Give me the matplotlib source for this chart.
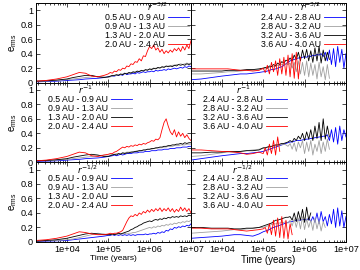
import numpy as np
import matplotlib
matplotlib.use("Agg")
import matplotlib.pyplot as plt
from matplotlib.ticker import LogLocator, FuncFormatter, NullFormatter

plt.rcParams["font.family"] = ["Liberation Sans", "DejaVu Sans"]

nan = np.nan

# ----------
#  DATA
# ----------
# log10(time / years), shared sampling of every curve
log_t = [3.25, 3.5, 3.75, 4.0, 4.15, 4.3, 4.45, 4.6, 4.75, 4.9,
         5.00, 5.05, 5.10, 5.15, 5.20, 5.25, 5.30, 5.35, 5.40, 5.45,
         5.50, 5.55, 5.60, 5.65, 5.70, 5.75, 5.80, 5.85, 5.90, 5.95,
         6.00, 6.05, 6.10, 6.15, 6.20, 6.25, 6.30, 6.35, 6.40, 6.45,
         6.50, 6.55, 6.60, 6.65, 6.70, 6.75, 6.80, 6.85, 6.90, 6.95,
         7.00]

labels_inner = ["0.5 AU - 0.9 AU", "0.9 AU - 1.3 AU", "1.3 AU - 2.0 AU", "2.0 AU - 2.4 AU"]
labels_outer = ["2.4 AU - 2.8 AU", "2.8 AU - 3.2 AU", "3.2 AU - 3.6 AU", "3.6 AU - 4.0 AU"]
profiles = ["$r^{-3/2}$", "$r^{-1}$", "$r^{-1/2}$"]

# r^-3/2, inner disc
e32_in_blue = [0.01, 0.015, 0.02, 0.03, 0.035, 0.04, 0.05, 0.055, 0.06, 0.07,
               0.08, 0.085, 0.09, 0.09, 0.1, 0.1, 0.11, 0.1, 0.13, 0.11,
               0.12, 0.12, 0.13, 0.12, 0.14, 0.13, 0.14, 0.15, 0.14, 0.15,
               0.15, 0.16, 0.15, 0.17, 0.16, 0.17, 0.17, 0.18, 0.17, 0.19,
               0.18, 0.19, 0.2, 0.19, 0.2, 0.21, 0.2, 0.22, 0.21, 0.23,
               0.22]
e32_in_gray = [0.02, 0.02, 0.03, 0.04, 0.05, 0.06, 0.07, 0.08, 0.085, 0.08,
               0.07, 0.08, 0.09, 0.1, 0.1, 0.11, 0.11, 0.12, 0.12, 0.13,
               0.13, 0.14, 0.14, 0.15, 0.15, 0.16, 0.16, 0.17, 0.17, 0.18,
               0.18, 0.19, 0.19, 0.2, 0.2, 0.21, 0.21, 0.22, 0.22, 0.23,
               0.23, 0.24, 0.24, 0.25, 0.25, 0.26, 0.25, 0.26, 0.27, 0.26,
               0.27]
e32_in_black = [0.02, 0.025, 0.035, 0.05, 0.07, 0.085, 0.1, 0.1, 0.08, 0.07,
                0.08, 0.09, 0.1, 0.1, 0.11, 0.1, 0.12, 0.11, 0.13, 0.12,
                0.14, 0.13, 0.15, 0.14, 0.16, 0.15, 0.17, 0.16, 0.18, 0.17,
                0.19, 0.18, 0.2, 0.19, 0.21, 0.2, 0.22, 0.21, 0.23, 0.22,
                0.23, 0.22, 0.24, 0.23, 0.25, 0.24, 0.25, 0.24, 0.26, 0.25,
                0.26]
e32_in_red = [0.02, 0.03, 0.05, 0.08, 0.11, 0.14, 0.13, 0.09, 0.08, 0.1,
              0.12, 0.14, 0.13, 0.16, 0.15, 0.18, 0.17, 0.2, 0.19, 0.23,
              0.22, 0.26, 0.25, 0.29, 0.28, 0.33, 0.3, 0.37, 0.36, 0.44,
              0.5, 0.47, 0.52, 0.45, 0.48, 0.42, 0.46, 0.4, 0.44, 0.41,
              0.45, 0.42, 0.47, 0.44, 0.48, 0.43, 0.5, 0.45, 0.52, 0.47,
              0.58]

# r^-3/2, outer disc
e32_out_blue = [0.04, 0.05, 0.07, 0.09, 0.1, 0.11, 0.12, 0.12, 0.13, 0.14,
                0.15, 0.15, 0.16, 0.17, 0.18, 0.18, 0.19, 0.2, 0.21, 0.22,
                0.24, 0.26, 0.28, 0.3, 0.31, 0.32, 0.33, 0.34, 0.34, 0.35,
                0.36, 0.35, 0.37, 0.36, 0.38, 0.37, 0.39, 0.38, 0.4, 0.36,
                0.42, 0.3, 0.45, 0.25, 0.47, 0.22, 0.5, 0.28, 0.46, 0.2,
                0.4]
e32_out_gray = [0.12, 0.12, 0.13, 0.14, 0.15, 0.15, 0.16, 0.17, 0.17, 0.18,
                0.19, 0.2, 0.2, 0.21, 0.22, 0.22, 0.23, 0.24, 0.24, 0.25,
                0.25, 0.26, 0.25, 0.27, 0.2, 0.28, 0.15, 0.3, 0.12, 0.28,
                0.1, 0.3, 0.08, 0.27, 0.1, 0.25, 0.05, 0.28, 0.08, 0.22,
                0.04, 0.25, 0.06] + [nan] * 8
e32_out_black = [0.16, 0.16, 0.16, 0.16, 0.17, 0.17, 0.17, 0.18, 0.18, 0.19,
                 0.2, 0.21, 0.2, 0.23, 0.22, 0.25, 0.23, 0.27, 0.25, 0.29,
                 0.27, 0.31, 0.3, 0.34, 0.3, 0.38, 0.32, 0.42, 0.3, 0.45,
                 0.33, 0.46, 0.3, 0.44, 0.28, 0.48, 0.3, 0.5, 0.27, 0.45,
                 0.3, 0.42, 0.32] + [nan] * 8
e32_out_red = [0.19, 0.19, 0.19, 0.19, 0.19, 0.18, 0.17, 0.17, 0.16, 0.17,
               0.2, 0.14, 0.24, 0.12, 0.28, 0.15, 0.3, 0.1, 0.33, 0.12,
               0.35, 0.1, 0.38, 0.08, 0.4, 0.06, 0.42, 0.05, 0.35] + [nan] * 22

# r^-1, inner disc
e1_in_blue = [0.01, 0.015, 0.02, 0.03, 0.035, 0.04, 0.05, 0.055, 0.06, 0.07,
              0.08, 0.085, 0.09, 0.1, 0.09, 0.1, 0.11, 0.1, 0.11, 0.12,
              0.12, 0.12, 0.13, 0.13, 0.13, 0.14, 0.14, 0.14, 0.15, 0.15,
              0.15, 0.16, 0.16, 0.16, 0.17, 0.17, 0.17, 0.18, 0.18, 0.18,
              0.19, 0.19, 0.19, 0.2, 0.2, 0.2, 0.21, 0.21, 0.21, 0.22,
              0.22]
e1_in_gray = [0.02, 0.02, 0.03, 0.04, 0.05, 0.06, 0.07, 0.08, 0.09, 0.1,
              0.1, 0.1, 0.11, 0.11, 0.12, 0.12, 0.12, 0.13, 0.13, 0.14,
              0.14, 0.14, 0.15, 0.15, 0.16, 0.16, 0.16, 0.17, 0.17, 0.18,
              0.18, 0.18, 0.19, 0.19, 0.2, 0.2, 0.2, 0.21, 0.21, 0.22,
              0.22, 0.22, 0.23, 0.23, 0.23, 0.24, 0.24, 0.24, 0.25, 0.25,
              0.25]
e1_in_black = [0.02, 0.025, 0.035, 0.05, 0.07, 0.085, 0.1, 0.11, 0.1, 0.08,
               0.08, 0.09, 0.1, 0.11, 0.1, 0.12, 0.11, 0.13, 0.12, 0.13,
               0.13, 0.14, 0.14, 0.15, 0.15, 0.16, 0.16, 0.17, 0.17, 0.18,
               0.18, 0.19, 0.19, 0.2, 0.2, 0.21, 0.21, 0.22, 0.22, 0.23,
               0.23, 0.24, 0.24, 0.25, 0.25, 0.26, 0.25, 0.27, 0.26, 0.27,
               0.27]
e1_in_red = [0.02, 0.03, 0.05, 0.08, 0.11, 0.14, 0.13, 0.09, 0.08, 0.1,
             0.11, 0.12, 0.12, 0.14, 0.15, 0.17, 0.19, 0.21, 0.2, 0.22,
             0.21, 0.23, 0.22, 0.24, 0.23, 0.25, 0.24, 0.26, 0.25, 0.27,
             0.28, 0.3, 0.29, 0.32, 0.31, 0.34, 0.45, 0.55, 0.6, 0.5,
             0.42, 0.38, 0.45, 0.35, 0.42, 0.36, 0.4, 0.34, 0.38, 0.33,
             0.3]

# r^-1, outer disc
e1_out_blue = [0.03, 0.05, 0.07, 0.09, 0.1, 0.11, 0.12, 0.12, 0.13, 0.14,
               0.15, 0.16, 0.17, 0.18, 0.19, 0.2, 0.21, 0.22, 0.23, 0.24,
               0.25, 0.26, 0.27, 0.28, 0.28, 0.29, 0.3, 0.3, 0.3, 0.31,
               0.31, 0.32, 0.32, 0.33, 0.33, 0.34, 0.34, 0.35, 0.35, 0.36,
               0.36, 0.38, 0.3, 0.45, 0.28, 0.48, 0.25, 0.5, 0.3, 0.45,
               0.35]
e1_out_gray = [0.08, 0.09, 0.11, 0.13, 0.14, 0.14, 0.15, 0.16, 0.17, 0.18,
               0.19, 0.2, 0.2, 0.21, 0.22, 0.22, 0.23, 0.23, 0.24, 0.24,
               0.25, 0.24, 0.22, 0.26, 0.18, 0.27, 0.15, 0.28, 0.2, 0.3,
               0.12, 0.28, 0.15, 0.3, 0.1, 0.25, 0.15, 0.3, 0.12, 0.28,
               0.15, 0.32, 0.18] + [nan] * 8
e1_out_black = [0.13, 0.13, 0.14, 0.14, 0.15, 0.15, 0.15, 0.16, 0.16, 0.17,
                0.2, 0.2, 0.21, 0.22, 0.22, 0.23, 0.24, 0.24, 0.25, 0.26,
                0.26, 0.27, 0.28, 0.3, 0.28, 0.33, 0.3, 0.36, 0.32, 0.4,
                0.3, 0.42, 0.32, 0.45, 0.3, 0.5, 0.33, 0.55, 0.3, 0.6,
                0.32, 0.5, 0.35] + [nan] * 8
e1_out_red = [0.17, 0.17, 0.16, 0.15, 0.15, 0.14, 0.13, 0.11, 0.12, 0.14,
              0.12, 0.2, 0.1, 0.25, 0.12, 0.3, 0.1, 0.35, 0.15] + [nan] * 32

# r^-1/2, inner disc
e12_in_blue = [0.005, 0.01, 0.015, 0.02, 0.03, 0.04, 0.05, 0.06, 0.07, 0.08,
               0.09, 0.09, 0.1, 0.09, 0.1, 0.09, 0.1, 0.09, 0.1, 0.09,
               0.1, 0.09, 0.1, 0.09, 0.1, 0.1, 0.1, 0.1, 0.11, 0.1,
               0.11, 0.11, 0.12, 0.11, 0.13, 0.12, 0.14, 0.13, 0.16, 0.15,
               0.18, 0.17, 0.2, 0.19, 0.21, 0.2, 0.22, 0.21, 0.23, 0.22,
               0.25]
e12_in_gray = [0.01, 0.015, 0.02, 0.03, 0.04, 0.06, 0.08, 0.1, 0.12, 0.11,
               0.1, 0.1, 0.1, 0.11, 0.1, 0.11, 0.11, 0.11, 0.12, 0.11,
               0.12, 0.12, 0.13, 0.13, 0.14, 0.15, 0.16, 0.17, 0.18, 0.19,
               0.2, 0.19, 0.21, 0.2, 0.22, 0.21, 0.23, 0.22, 0.24, 0.23,
               0.25, 0.24, 0.26, 0.25, 0.27, 0.26, 0.28, 0.27, 0.29, 0.28,
               0.3]
e12_in_black = [0.01, 0.02, 0.03, 0.05, 0.07, 0.09, 0.11, 0.12, 0.11, 0.1,
                0.1, 0.1, 0.11, 0.1, 0.11, 0.12, 0.11, 0.12, 0.13, 0.14,
                0.15, 0.17, 0.18, 0.2, 0.21, 0.23, 0.24, 0.26, 0.27, 0.28,
                0.29, 0.28, 0.3, 0.31, 0.3, 0.32, 0.31, 0.33, 0.32, 0.34,
                0.33, 0.35, 0.34, 0.35, 0.34, 0.36, 0.35, 0.36, 0.35, 0.37,
                0.36]
e12_in_red = [0.02, 0.03, 0.05, 0.08, 0.11, 0.14, 0.13, 0.11, 0.1, 0.1,
              0.11, 0.12, 0.11, 0.12, 0.12, 0.13, 0.14, 0.16, 0.22, 0.28,
              0.33, 0.36, 0.35, 0.38, 0.36, 0.4, 0.38, 0.42, 0.4, 0.44,
              0.41, 0.45, 0.42, 0.46, 0.43, 0.47, 0.42, 0.46, 0.43, 0.47,
              0.42, 0.46, 0.41, 0.45, 0.42, 0.48, 0.43, 0.47, 0.42, 0.46,
              0.4]

# r^-1/2, outer disc
e12_out_blue = [0.05, 0.06, 0.07, 0.08, 0.09, 0.1, 0.1, 0.09, 0.08, 0.11,
                0.14, 0.15, 0.16, 0.17, 0.19, 0.2, 0.21, 0.22, 0.23, 0.24,
                0.25, 0.26, 0.27, 0.28, 0.28, 0.29, 0.3, 0.3, 0.3, 0.31,
                0.31, 0.3, 0.33, 0.28, 0.35, 0.27, 0.4, 0.25, 0.42, 0.28,
                0.35, 0.22, 0.38, 0.25, 0.45, 0.2, 0.47, 0.22, 0.43, 0.2,
                0.35]
e12_out_gray = [0.12, 0.13, 0.14, 0.15, 0.16, 0.17, 0.17, 0.18, 0.19, 0.2,
                0.2, 0.21, 0.22, 0.23, 0.24, 0.25, 0.25, 0.26, 0.26, 0.27,
                0.27, 0.28, 0.26, 0.3, 0.22, 0.32, 0.2, 0.33, 0.18, 0.35,
                0.17, 0.32, 0.2, 0.3, 0.16, 0.33, 0.18, 0.3, 0.15, 0.28,
                0.2] + [nan] * 10
e12_out_black = [0.2, 0.2, 0.19, 0.19, 0.19, 0.18, 0.18, 0.19, 0.19, 0.2,
                 0.22, 0.23, 0.24, 0.25, 0.26, 0.28, 0.3, 0.3, 0.31, 0.32,
                 0.33, 0.34, 0.34, 0.35, 0.3, 0.4, 0.28, 0.42, 0.3, 0.45,
                 0.27, 0.48, 0.3, 0.4] + [nan] * 17
e12_out_red = [0.19, 0.19, 0.18, 0.18, 0.18, 0.17, 0.16, 0.15, 0.16, 0.17,
               0.18, 0.2, 0.12, 0.25, 0.1, 0.3, 0.08, 0.33, 0.06, 0.35,
               0.05, 0.3, 0.04, 0.25, 0.1] + [nan] * 26

# ----------
#  STYLE
# ----------
colors = ["blue", "#a0a0a0", "black", "red"]
font_tick = 6.6
font_key = 6.3

panels = [
    [[e32_in_blue, e32_in_gray, e32_in_black, e32_in_red],
     [e32_out_blue, e32_out_gray, e32_out_black, e32_out_red]],
    [[e1_in_blue, e1_in_gray, e1_in_black, e1_in_red],
     [e1_out_blue, e1_out_gray, e1_out_black, e1_out_red]],
    [[e12_in_blue, e12_in_gray, e12_in_black, e12_in_red],
     [e12_out_blue, e12_out_gray, e12_out_black, e12_out_red]],
]

# key anchor (upper right corner) and key title position, axes fraction
key_anchor = [[(0.99, 0.87), (0.995, 0.87)],
              [(0.62, 0.85), (0.62, 0.85)],
              [(0.62, 0.85), (0.62, 0.85)]]
key_title = [[(0.78, 0.95), (0.77, 0.95)],
             [(0.32, 0.91), (0.34, 0.91)],
             [(0.33, 0.91), (0.33, 0.91)]]

t = 10 ** np.array(log_t)

fig, axes = plt.subplots(3, 2, figsize=(3.6, 2.7), dpi=100, sharex=True, sharey=True)
fig.subplots_adjust(left=0.1, right=0.961, top=0.989, bottom=0.104, wspace=0, hspace=0)

for r in range(3):
    for c in range(2):
        ax = axes[r, c]
        labels = labels_inner if c == 0 else labels_outer
        for y, col, lab in zip(panels[r][c], colors, labels):
            ax.plot(t, y, color=col, lw=0.6, label=lab)

        ax.set_xscale("log")
        ax.set_xlim(1800, 1e7)
        ax.set_ylim(0, 1.1)
        ax.set_yticks([0, 0.2, 0.4, 0.6, 0.8, 1.0])
        ax.set_yticklabels(["0", "0.2", "0.4", "0.6", "0.8", "1"])
        ax.xaxis.set_major_locator(LogLocator(base=10, numticks=10))
        ax.xaxis.set_minor_locator(LogLocator(base=10, subs=np.arange(2, 10), numticks=10))
        ax.xaxis.set_major_formatter(FuncFormatter(lambda v, p: "1e+%02d" % int(round(np.log10(v)))))
        ax.xaxis.set_minor_formatter(NullFormatter())
        ax.tick_params(which="both", direction="in", top=True, right=True,
                       labelsize=font_tick, width=0.5, pad=2)
        ax.tick_params(which="major", length=3)
        ax.tick_params(which="minor", length=1.5)
        for s in ax.spines.values():
            s.set_linewidth(0.7)

        if c == 1:
            ax.tick_params(labelleft=False)
        else:
            ax.set_ylabel(r"$\mathregular{e_{rms}}$", fontsize=7, labelpad=1)
        if r == 2:
            ax.set_xlabel("Time (years)", fontsize=6 if c == 0 else 7, labelpad=1)

        ax.legend(loc="upper right", bbox_to_anchor=key_anchor[r][c], frameon=False,
                  markerfirst=False, fontsize=font_key, handlelength=2.4,
                  handletextpad=0.4, labelspacing=0.0, borderpad=0, borderaxespad=0)
        ax.text(key_title[r][c][0], key_title[r][c][1], profiles[r], transform=ax.transAxes,
                fontsize=font_key, ha="center", va="center")

fig.savefig("out.png", dpi=100)
